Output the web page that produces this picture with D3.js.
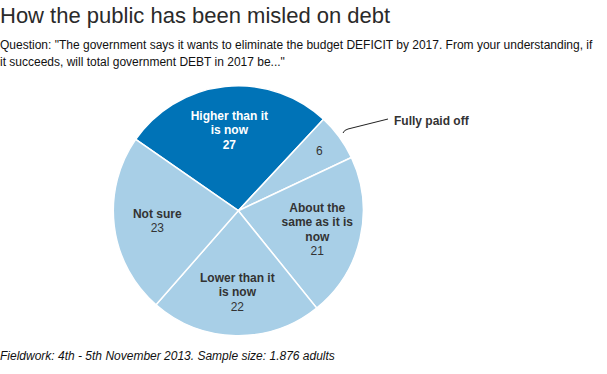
<!DOCTYPE html>
<html><head><meta charset="utf-8">
<script src="https://cdn.jsdelivr.net/npm/d3@7"></script>
<style>
body{margin:0;background:#fff;}
svg{display:block;font-family:"Liberation Sans",Arial,sans-serif;}
</style></head>
<body>
<svg id="chart" width="607" height="374"></svg>
<script>
const categories = ["Higher than it is now","Fully paid off","About the same as it is now","Lower than it is now","Not sure"];
const values = [27, 6, 21, 22, 23];
const labelLines = [["Higher than it","is now"],[],["About the","same as it is","now"],["Lower than it","is now"],["Not sure"]];
const colors = ["#0073b7","#a8cfe7","#a8cfe7","#a8cfe7","#a8cfe7"];

const svg = d3.select("#chart");
const cx = 238.3, cy = 210.7, r = 125;

svg.append("text").attr("x",0).attr("y",23).attr("font-size",22)
  .attr("fill","#2a2a2a").text("How the public has been misled on debt");
svg.append("text").attr("x",0).attr("y",49).attr("font-size",12).attr("fill","#111")
  .text("Question: \"The government says it wants to eliminate the budget DEFICIT by 2017. From your understanding, if");
svg.append("text").attr("x",0).attr("y",66).attr("font-size",12).attr("fill","#111")
  .text("it succeeds, will total government DEBT in 2017 be...\"");
svg.append("text").attr("x",0).attr("y",360).attr("font-size",12).attr("font-style","italic").attr("fill","#111")
  .text("Fieldwork: 4th - 5th November 2013. Sample size: 1.876 adults");

const pie = d3.pie().sort(null).startAngle(-55.2*Math.PI/180).endAngle((360-55.2)*Math.PI/180);
const arcs = pie(values);
const arc = d3.arc().innerRadius(0).outerRadius(r);
const g = svg.append("g").attr("transform",`translate(${cx},${cy})`);
g.selectAll("path").data(arcs).join("path").attr("d",arc)
  .attr("fill",(d,i)=>colors[i]).attr("stroke","#fff").attr("stroke-width",1.5);

// label anchor positions (centre x, first baseline) relative to centre
const labelPos = [[-9,-91],[81,-56],[79,1],[-1,71],[-81,7]];
const lh = 14.6;
arcs.forEach((d,i)=>{
  const col = i===0 ? "#fff" : "#333";
  const t = g.append("text").attr("text-anchor","middle").attr("font-size",12).attr("fill",col);
  const lines = labelLines[i];
  lines.forEach((ln,j)=>{
    t.append("tspan").attr("x",labelPos[i][0]).attr("y",labelPos[i][1]+j*lh).attr("font-weight","bold").text(ln);
  });
  t.append("tspan").attr("x",labelPos[i][0]).attr("y",labelPos[i][1]+lines.length*lh)
    .attr("font-weight", i===0?"bold":"normal").text(values[i]);
});

// leader line for Fully paid off
svg.append("path").attr("d","M343,133 Q344,130 348,129 L388,119").attr("fill","none").attr("stroke","#222").attr("stroke-width",1);
svg.append("text").attr("x",394).attr("y",125).attr("font-size",12).attr("font-weight","bold").attr("fill","#333").text(categories[1]);
</script>
</body></html>
